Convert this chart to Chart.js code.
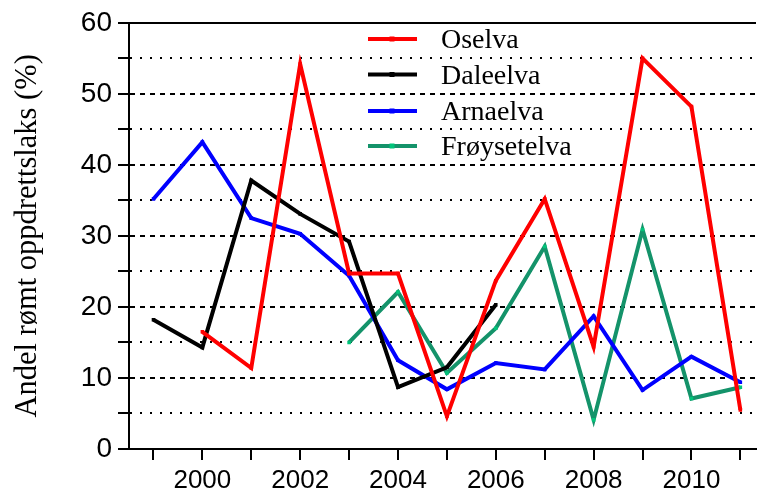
<!DOCTYPE html>
<html>
<head>
<meta charset="utf-8">
<script src="https://cdn.jsdelivr.net/npm/chart.js@4.4.0/dist/chart.umd.min.js"></script>
<style>
  html, body { margin: 0; padding: 0; background: #fff; }
  #wrap { width: 760px; height: 494px; }
</style>
</head>
<body>
<div id="wrap"><canvas id="chart" width="760" height="494"></canvas></div>
<script>
const years = [1999, 2000, 2001, 2002, 2003, 2004, 2005, 2006, 2007, 2008, 2009, 2010, 2011];
const oselva = [null, 16.5, 11.4, 54.2, 24.7, 24.7, 4.6, 23.7, 35.2, 14.4, 55.0, 48.2, 5.5];
const daleelva = [18.2, 14.3, 37.8, 33.1, 29.2, 8.7, 11.5, 20.3, null, null, null, null, null];
const arnaelva = [35.2, 43.2, 32.5, 30.3, 24.4, 12.5, 8.4, 12.1, 11.2, 18.7, 8.3, 13.0, 9.4];
const froysetelva = [null, null, null, null, 15.0, 22.1, 10.7, 17.0, 28.5, 4.1, 30.9, 7.1, 8.7];
const seriesNames = ['Oselva', 'Daleelva', 'Arnaelva', 'Frøysetelva'];
const yTitle = 'Andel rømt oppdrettslaks (%)';

const lineColors = ['#ff0000', '#000000', '#0000ff', '#14936a'];
const pointColors = ['#ff0000', '#000000', '#0000ff', '#00c47a'];

function toPoints(vals) {
  return years.map((yr, i) => ({ x: yr, y: vals[i] }));
}

const datasets = [oselva, daleelva, arnaelva, froysetelva].map((vals, i) => ({
  label: seriesNames[i],
  data: toPoints(vals),
  borderColor: lineColors[i],
  backgroundColor: pointColors[i],
  pointBackgroundColor: pointColors[i],
  pointBorderWidth: 0,
  pointStyle: 'rect',
  pointRadius: 2.5,
  borderWidth: 4,
  tension: 0,
  spanGaps: false
}));

// legend drawn by hand so it sits inside the plot like the original
const legendBox = {
  id: 'legendBox',
  afterDatasetsDraw(chart) {
    const ctx = chart.ctx;
    const rows = [39, 74.5, 111, 146];
    ctx.save();
    chart.data.datasets.forEach((ds, i) => {
      const y = rows[i];
      ctx.strokeStyle = ds.borderColor;
      ctx.lineWidth = 4;
      ctx.beginPath();
      ctx.moveTo(368, y);
      ctx.lineTo(417, y);
      ctx.stroke();
      ctx.fillStyle = ds.pointBackgroundColor;
      ctx.fillRect(389.5, y - 2.5, 5, 5);
      ctx.fillStyle = '#000';
      ctx.font = '28px "Liberation Serif"';
      ctx.textBaseline = 'middle';
      ctx.textAlign = 'left';
      ctx.fillText(ds.label, 441, y + 2);
    });
    ctx.restore();
  }
};

new Chart(document.getElementById('chart'), {
  type: 'line',
  data: { datasets: datasets },
  plugins: [legendBox],
  options: {
    responsive: false,
    animation: false,
    devicePixelRatio: 1,
    layout: { padding: { top: 21, left: 0, right: 0, bottom: 0 } },
    plugins: { legend: { display: false }, tooltip: { enabled: false } },
    scales: {
      x: {
        type: 'linear',
        min: 1998.5,
        max: 2011.32,
        afterFit(scale) { scale.height = 45; },
        ticks: {
          stepSize: 1,
          includeBounds: false,
          autoSkip: false,
          maxRotation: 0,
          padding: 5,
          color: '#000',
          font: { family: 'Liberation Sans', size: 26 },
          callback: (v) => (v % 2 === 0 ? String(v) : '')
        },
        grid: {
          drawOnChartArea: false,
          drawTicks: true,
          tickLength: 11,
          tickWidth: 2,
          tickColor: '#000',
          color: '#000',
          lineWidth: 2
        },
        border: { display: true, color: '#000', width: 2 }
      },
      y: {
        min: 0,
        max: 60,
        afterFit(scale) { scale.width = 129; },
        title: {
          display: true,
          text: yTitle,
          color: '#000',
          font: { family: 'Liberation Serif', size: 30.5 },
          padding: { top: 10, bottom: 0 }
        },
        ticks: {
          stepSize: 5,
          autoSkip: false,
          padding: 6,
          color: '#000',
          font: { family: 'Liberation Sans', size: 28 },
          callback: (v) => (v % 10 === 0 ? String(v) : '')
        },
        grid: {
          color: '#000',
          lineWidth: 2,
          tickLength: 11,
          tickWidth: 2,
          tickColor: '#000',
          tickBorderDash: [1, 0]
        },
        border: {
          display: true,
          color: '#000',
          width: 2,
          dash: (ctx) => {
            const v = ctx.tick ? ctx.tick.value : 0;
            if (v === 0 || v === 60) return [];
            return v % 10 === 0 ? [5, 5] : [2, 8];
          }
        }
      }
    }
  }
});
</script>
</body>
</html>
